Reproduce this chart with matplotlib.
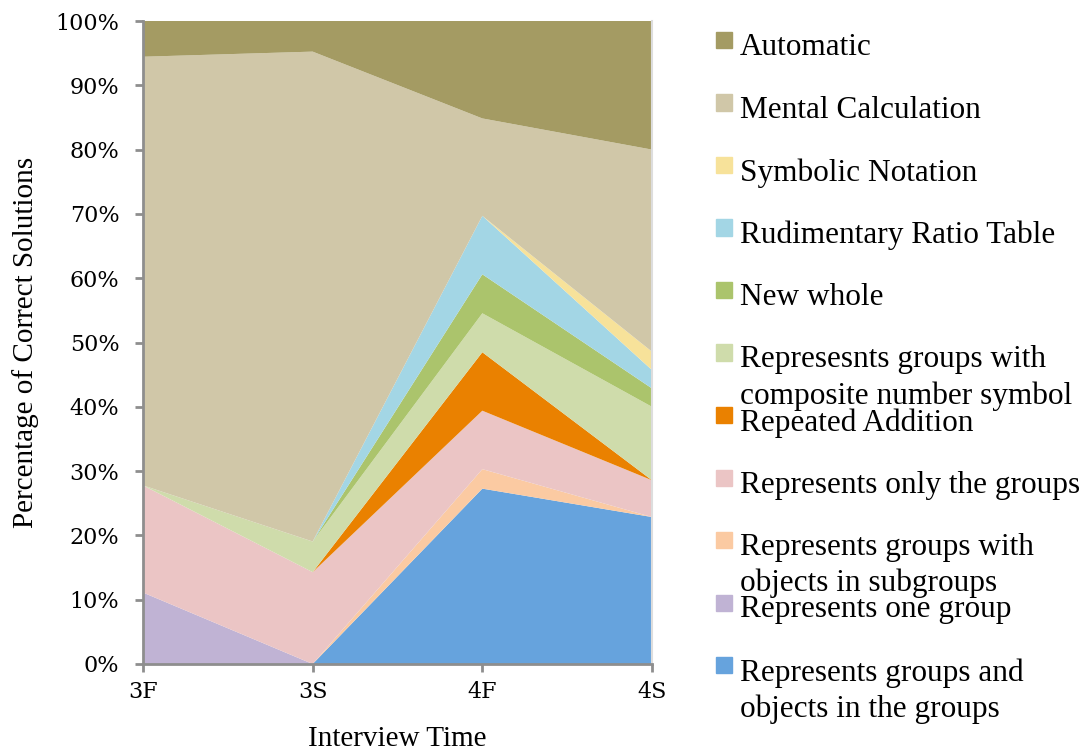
import numpy as np
import matplotlib
matplotlib.use("Agg")
import matplotlib.pyplot as plt
from matplotlib.patches import Rectangle
from matplotlib.ticker import FuncFormatter

# interview times and number of correct solutions per strategy (bottom -> top)
times = ["3F", "3S", "4F", "4S"]
series = [
    "Represents groups and\nobjects in the groups",
    "Represents one group",
    "Represents groups with\nobjects in subgroups",
    "Represents only the groups",
    "Repeated Addition",
    "Represesnts groups with\ncomposite number symbol",
    "New whole",
    "Rudimentary Ratio Table",
    "Symbolic Notation",
    "Mental Calculation",
    "Automatic",
]
groups_objects  = [0, 0, 9, 8]
one_group       = [2, 0, 0, 0]
subgroups       = [0, 0, 1, 0]
only_groups     = [3, 3, 3, 2]
repeated_add    = [0, 0, 3, 0]
composite       = [0, 1, 2, 4]
new_whole       = [0, 0, 2, 1]
ratio_table     = [0, 0, 3, 1]
symbolic        = [0, 0, 0, 1]
mental          = [12, 16, 5, 11]
automatic       = [1, 1, 5, 7]

colors = ["#66A3DD", "#C0B3D4", "#FBCAA2", "#EBC5C5", "#EA8100", "#CFDCAB",
          "#ABC46C", "#A3D6E5", "#F7E29A", "#D0C7A8", "#A49B63"]

counts = np.array([groups_objects, one_group, subgroups, only_groups,
                   repeated_add, composite, new_whole, ratio_table,
                   symbolic, mental, automatic], dtype=float)
pct = counts / counts.sum(axis=0) * 100

W, H = 1089, 755
fig = plt.figure(figsize=(W / 100, H / 100), dpi=100)
ax = fig.add_axes([143 / W, 1 - 664 / H, (652 - 143) / W, (664 - 21) / H])

x = np.arange(len(times))
ax.stackplot(x, pct, colors=colors, linewidth=0)
ax.set_xlim(0, 3)
ax.set_ylim(0, 100)

grey = "#8E8E8E"
ax.spines["top"].set_visible(False)
ax.spines["right"].set_color("#DDDDDD")
ax.spines["right"].set_linewidth(1.5)
for s in ["left", "bottom"]:
    ax.spines[s].set_color(grey)
    ax.spines[s].set_linewidth(2)

ax.set_yticks(np.arange(0, 101, 10))
ax.yaxis.set_major_formatter(FuncFormatter(lambda v, p: f"{int(v)}%"))
ax.set_xticks(x)
ax.set_xticklabels(times)
ax.tick_params(axis="both", colors=grey, width=2, length=6,
               labelcolor="black", labelsize=16)
ax.tick_params(axis="y", pad=11)
ax.tick_params(axis="x", pad=6)
for lab in ax.get_xticklabels() + ax.get_yticklabels():
    lab.set_family("DejaVu Serif")

ax.set_ylabel("Percentage of Correct Solutions", family="Liberation Serif",
              fontsize=21, labelpad=12)
ax.set_xlabel("Interview Time", family="Liberation Serif", fontsize=21,
              labelpad=17)

# legend drawn by hand, top entry first
for i, (name, col) in enumerate(zip(series[::-1], colors[::-1])):
    base = 55 + 62.5 * i
    fig.patches.append(Rectangle((716 / W, 1 - (base - 7) / H), 16 / W, 16 / H,
                                 transform=fig.transFigure, color=col))
    fig.text(740 / W, 1 - (base - 22) / H, name, family="Liberation Serif",
             fontsize=22.5, va="top", ha="left", linespacing=1.3)

fig.savefig("out.png", dpi=100)
